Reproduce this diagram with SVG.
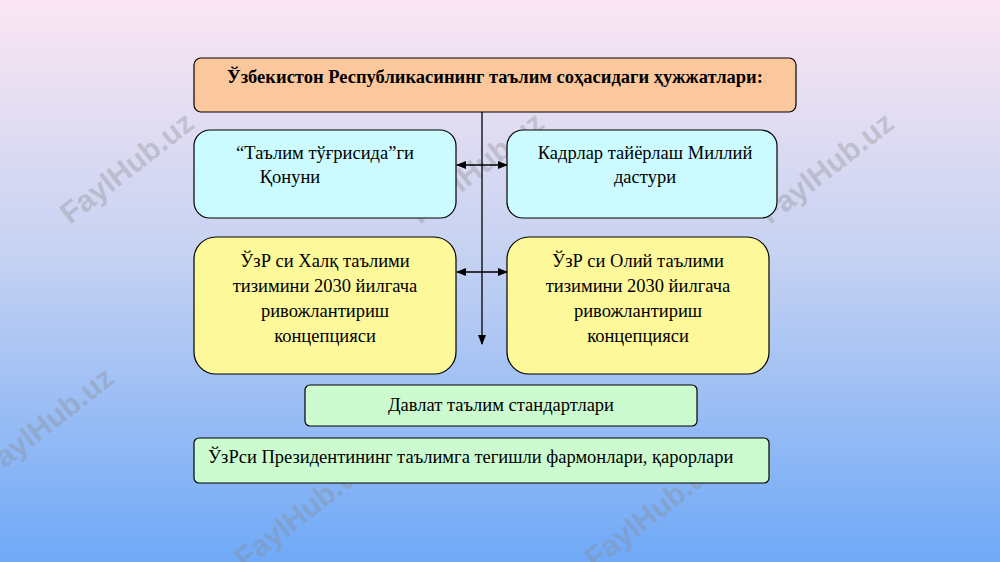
<svg xmlns="http://www.w3.org/2000/svg" width="1000" height="562" viewBox="0 0 1000 562">
<defs>
<linearGradient id="bg" x1="0" y1="0" x2="0" y2="1">
<stop offset="0" stop-color="#fbe6f3"/><stop offset="0.45" stop-color="#c6d2f2"/><stop offset="1" stop-color="#6fa9f7"/>
</linearGradient>
<marker id="ah" viewBox="0 0 10 10" refX="9" refY="5" markerWidth="8" markerHeight="8" orient="auto-start-reverse"><path d="M0,1 L10,5 L0,9 z" fill="#000"/></marker>
<style>
.t{font-family:"Liberation Serif",serif;font-size:18.5px;fill:#000;text-anchor:middle}
.s{text-anchor:start}
.b{stroke:#000;stroke-width:1.2}
.l{stroke:#000;stroke-width:1.3;fill:none}
.w{font-family:"Liberation Sans",sans-serif;font-size:30px;font-weight:bold;fill:#8a8a8a;fill-opacity:0.35}
</style>
</defs>
<rect width="1000" height="562" fill="url(#bg)"/>
<g id="watermarks">
<text class="w" transform="translate(70,225) rotate(-38)">FaylHub.uz</text>
<text class="w" transform="translate(420,225) rotate(-38)">FaylHub.uz</text>
<text class="w" transform="translate(770,225) rotate(-38)">FaylHub.uz</text>
<text class="w" transform="translate(-10,480) rotate(-38)">FaylHub.uz</text>
<text class="w" transform="translate(245,570) rotate(-38)">FaylHub.uz</text>
<text class="w" transform="translate(595,570) rotate(-38)">FaylHub.uz</text>
</g>
<g id="connectors">
<line class="l" x1="482" y1="112" x2="482" y2="344" marker-end="url(#ah)"/>
<line class="l" x1="457" y1="165" x2="507" y2="165" marker-start="url(#ah)" marker-end="url(#ah)"/>
<line class="l" x1="457" y1="272" x2="507" y2="272" marker-start="url(#ah)" marker-end="url(#ah)"/>
</g>
<g id="n0"><rect class="b" x="194" y="58" width="602" height="54" rx="7" fill="#fbc89e"/><text class="t" x="495" y="83" font-weight="bold">Ўзбекистон Республикасининг таълим соҳасидаги  ҳужжатлари:</text></g>
<g id="n1"><rect class="b" x="194" y="130" width="262" height="88" rx="16" fill="#ccfbff"/><text class="t" x="325" y="159">“Таълим тўғрисида”ги</text><text class="t" x="290" y="183">Қонуни</text></g>
<g id="n2"><rect class="b" x="507" y="130" width="270" height="88" rx="16" fill="#ccfbff"/><text class="t" x="645" y="159">Кадрлар тайёрлаш Миллий</text><text class="t" x="645" y="183">дастури</text></g>
<g id="n3"><rect class="b" x="194" y="237" width="262" height="137" rx="22" fill="#fdf89a"/><text class="t" x="325" y="267">ЎзР си Халқ таълими</text><text class="t" x="325" y="292">тизимини 2030 йилгача</text><text class="t" x="325" y="317">ривожлантириш</text><text class="t" x="325" y="342">концепцияси</text></g>
<g id="n4"><rect class="b" x="507" y="237" width="262" height="137" rx="22" fill="#fdf89a"/><text class="t" x="638" y="267">ЎзР си Олий таълими</text><text class="t" x="638" y="292">тизимини 2030 йилгача</text><text class="t" x="638" y="317">ривожлантириш</text><text class="t" x="638" y="342">концепцияси</text></g>
<g id="n5"><rect class="b" x="305" y="385" width="392" height="41" rx="5" fill="#ccfbd0"/><text class="t" x="501" y="411">Давлат таълим стандартлари</text></g>
<g id="n6"><rect class="b" x="194" y="438" width="575" height="45" rx="5" fill="#ccfbd0"/><text class="t s" x="208" y="463">ЎзРси Президентининг таълимга тегишли фармонлари, қарорлари</text></g>
</svg>
